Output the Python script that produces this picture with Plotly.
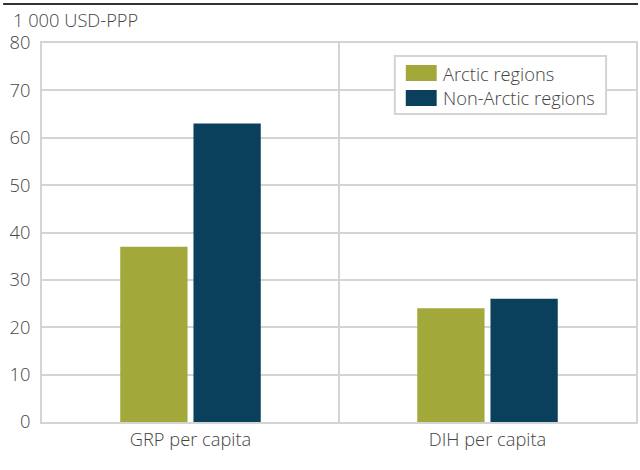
import plotly.graph_objects as go

# Per-capita income indicators, thousand USD-PPP
categories = ["GRP per capita", "DIH per capita"]
series_names = ["Arctic regions", "Non-Arctic regions"]
arctic_values = [37, 24]
non_arctic_values = [63, 26]
y_ticks = [0, 10, 20, 30, 40, 50, 60, 70, 80]
y_title = "1 000 USD-PPP"

colors = ["#a2a83a", "#0b405c"]
grid_color = "#d4d4d4"
text_color = "#444444"
font_family = "Open Sans"
fsize = 18.3

W, H = 640, 470
ml, mr, mt, mb = 42, 2, 43, 48
pw, ph = W - ml - mr, H - mt - mb


def px_x(x):
    return (x - ml) / pw


def px_y(y):
    return 1 - (y - mt) / ph


fig = go.Figure()
for name, vals, col in zip(series_names, [arctic_values, non_arctic_values], colors):
    fig.add_trace(go.Bar(x=categories, y=vals, name=name, marker_color=col,
                         marker_line_width=0, showlegend=False))

shapes = [
    # divider between the two categories
    dict(type="line", xref="x", yref="paper", x0=0.5, x1=0.5, y0=0, y1=1,
         line=dict(color=grid_color, width=2), layer="below"),
    # rule across the top of the figure
    dict(type="line", xref="paper", yref="paper", x0=px_x(3), x1=px_x(640),
         y0=px_y(4), y1=px_y(4), line=dict(color="#333333", width=2)),
    # legend box
    dict(type="rect", xref="paper", yref="paper", x0=px_x(396), x1=px_x(608),
         y0=px_y(114), y1=px_y(56), fillcolor="white",
         line=dict(color=grid_color, width=2)),
]
annotations = [
    dict(text=y_title, xref="paper", yref="paper", x=px_x(11), y=px_y(20),
         xanchor="left", yanchor="middle", showarrow=False,
         font=dict(family=font_family, size=fsize, color=text_color, weight=300)),
]

# legend entries
for i, (name, col) in enumerate(zip(series_names, colors)):
    top = 65 + i * 25
    shapes.append(dict(type="rect", xref="paper", yref="paper",
                       x0=px_x(407), x1=px_x(438), y0=px_y(top + 16), y1=px_y(top),
                       fillcolor=col, line=dict(width=0)))
    annotations.append(dict(text=name, xref="paper", yref="paper",
                            x=px_x(442), y=px_y(top + 8), xanchor="left",
                            yanchor="middle", showarrow=False,
                            font=dict(family=font_family, size=fsize,
                                      color=text_color, weight=300)))

fig.update_layout(
    width=W, height=H,
    margin=dict(l=ml, r=mr, t=mt, b=mb),
    paper_bgcolor="white", plot_bgcolor="white",
    barmode="group", bargap=0.507, bargroupgap=0.081,
    font=dict(family=font_family, size=fsize, color=text_color, weight=300),
    shapes=shapes, annotations=annotations,
    xaxis=dict(type="category", showgrid=False, showline=True, mirror=True,
               linecolor=grid_color, linewidth=2, ticks="", ticklen=0,
               tickfont=dict(size=fsize), fixedrange=True),
    yaxis=dict(range=[0, 80], tickvals=y_ticks, showgrid=True,
               gridcolor=grid_color, gridwidth=2, showline=True, mirror=True,
               linecolor=grid_color, linewidth=2, zeroline=False, ticks="",
               ticklabelstandoff=6, tickfont=dict(size=fsize), fixedrange=True),
)

fig.write_html("out.html", config={"displayModeBar": False})
